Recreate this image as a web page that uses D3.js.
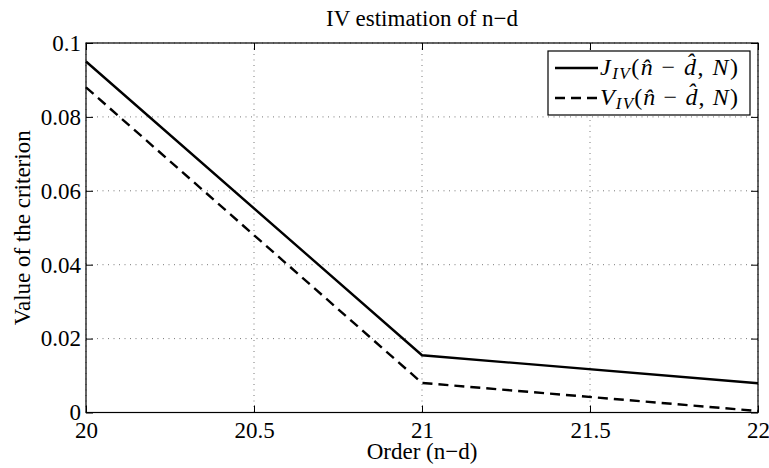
<!DOCTYPE html>
<html>
<head>
<meta charset="utf-8">
<script src="https://cdn.jsdelivr.net/npm/d3@7"></script>
<style>
  body { margin: 0; background: #fff; }
  svg text { font-family: "Liberation Serif", serif !important; fill: #000; }
</style>
</head>
<body>
<svg width="769" height="468"></svg>
<script>
// data
var orders = [20, 21, 22];
var jValues = [0.095, 0.0155, 0.0079];
var vValues = [0.088, 0.008, 0.0004];
var xTicks = [20, 20.5, 21, 21.5, 22];
var yTicks = [0, 0.02, 0.04, 0.06, 0.08, 0.1];

var svg = d3.select("svg"),
    margin = {top: 43, right: 11, bottom: 55.5, left: 86},
    width = +svg.attr("width") - margin.left - margin.right,
    height = +svg.attr("height") - margin.top - margin.bottom,
    fs = 23,
    serif = "Liberation Serif, serif";

svg.append("rect").attr("width", 769).attr("height", 468).attr("fill", "#fff");

var x = d3.scaleLinear().domain([20, 22]).range([0, width]),
    y = d3.scaleLinear().domain([0, 0.1]).range([height, 0]);

var g = svg.append("g")
    .attr("transform", "translate(" + margin.left + "," + margin.top + ")");

// dotted grid
g.append("g").selectAll("line").data(xTicks).enter().append("line")
    .attr("x1", function(d) { return x(d); }).attr("x2", function(d) { return x(d); })
    .attr("y1", 0).attr("y2", height)
    .attr("stroke", "#555").attr("stroke-width", 0.8).attr("stroke-dasharray", "1,4.5");
g.append("g").selectAll("line").data(yTicks).enter().append("line")
    .attr("y1", function(d) { return y(d); }).attr("y2", function(d) { return y(d); })
    .attr("x1", 0).attr("x2", width)
    .attr("stroke", "#555").attr("stroke-width", 0.8).attr("stroke-dasharray", "1,4.5");

var fmt = function(d) { return d === 0 ? "0" : String(+d.toFixed(2)); };

// axes, ticks pointing inward
var xAxis = g.append("g").attr("transform", "translate(0," + height + ")")
    .call(d3.axisBottom(x).tickValues(xTicks).tickFormat(fmt).tickSize(-7).tickPadding(9));
var yAxis = g.append("g")
    .call(d3.axisLeft(y).tickValues(yTicks).tickFormat(fmt).tickSize(-7).tickPadding(5));
var xTop = g.append("g")
    .call(d3.axisTop(x).tickValues(xTicks).tickFormat("").tickSize(-7));
var yRight = g.append("g").attr("transform", "translate(" + width + ",0)")
    .call(d3.axisRight(y).tickValues(yTicks).tickFormat("").tickSize(-7));

[xAxis, yAxis, xTop, yRight].forEach(function(a) {
  a.attr("font-family", serif).attr("font-size", fs);
  a.select(".domain").remove();
  a.selectAll("line").attr("stroke", "#000");
  a.selectAll("text").style("font-family", serif).style("font-size", fs + "px");
});

// frame
g.append("rect").attr("width", width).attr("height", height)
    .attr("fill", "none").attr("stroke", "#000").attr("stroke-width", 1.2);

// lines
var line = d3.line()
    .x(function(d, i) { return x(orders[i]); })
    .y(function(d) { return y(d); });

g.append("path").datum(jValues).attr("d", line)
    .attr("fill", "none").attr("stroke", "#000").attr("stroke-width", 2.4);
g.append("path").datum(vValues).attr("d", line)
    .attr("fill", "none").attr("stroke", "#000").attr("stroke-width", 2.4)
    .attr("stroke-dasharray", "10,6");

// titles
svg.append("text").attr("x", margin.left + width / 2).attr("y", 26)
    .attr("text-anchor", "middle").style("font-size", fs + "px").text("IV estimation of n\u2212d");
svg.append("text").attr("x", margin.left + width / 2).attr("y", 459)
    .attr("text-anchor", "middle").style("font-size", fs + "px").text("Order (n\u2212d)");
svg.append("text").attr("transform", "translate(29.5," + (margin.top + height / 2) + ") rotate(-90)")
    .attr("text-anchor", "middle").style("font-size", fs + "px").text("Value of the criterion");

// legend
var legend = svg.append("g").attr("transform", "translate(548,51)");
legend.append("rect").attr("width", 202).attr("height", 64)
    .attr("fill", "#fff").attr("stroke", "#000").attr("stroke-width", 1.2);

var entries = [
  {name: "J", dash: null, y: 17},
  {name: "V", dash: "10,6", y: 47}
];
entries.forEach(function(e) {
  legend.append("line").attr("x1", 7).attr("x2", 50).attr("y1", e.y).attr("y2", e.y)
      .attr("stroke", "#000").attr("stroke-width", 2.4)
      .attr("stroke-dasharray", e.dash);
  var t = legend.append("text").attr("x", 52).attr("y", e.y + 7)
      .attr("textLength", 138).attr("lengthAdjust", "spacing")
      .style("font-size", "24px");
  t.append("tspan").attr("font-style", "italic").text(e.name);
  t.append("tspan").attr("font-style", "italic").style("font-size", "17px").attr("dy", 4).text("IV");
  t.append("tspan").attr("dy", -4).text("(");
  t.append("tspan").attr("font-style", "italic").text("n\u0302");
  t.append("tspan").text(" \u2212 ");
  t.append("tspan").attr("font-style", "italic").text("d\u0302");
  t.append("tspan").text(", ");
  t.append("tspan").attr("font-style", "italic").text("N");
  t.append("tspan").text(")");
});
</script>
</body>
</html>
